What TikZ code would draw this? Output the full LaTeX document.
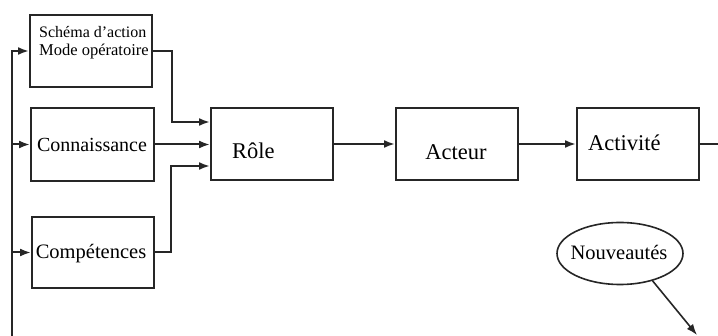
\documentclass[tikz,border=0pt]{standalone}
\usepackage{fontspec}
\setmainfont{Liberation Serif}
\usetikzlibrary{arrows.meta,shapes.geometric}
\begin{document}
\begin{tikzpicture}[x=1pt,y=-1pt,
  box/.style={draw=black!85,line width=2pt,rectangle,inner sep=0pt},
  line/.style={draw=black!85,line width=2pt},
  arr/.style={line,-{Latex[length=11pt,width=8pt]}},
  lbl/.style={inner sep=0pt}]
\useasboundingbox (0,0) rectangle (718,336);
% boxes
\node[box,minimum width=122pt,minimum height=72pt] (schema) at (91,51) {};
\node[box,minimum width=123pt,minimum height=73pt] (conn) at (92.5,144.5) {};
\node[box,minimum width=122pt,minimum height=71pt] (comp) at (93,252.5) {};
\node[box,minimum width=122pt,minimum height=72pt] (role) at (272,144) {};
\node[box,minimum width=122pt,minimum height=72pt] (acteur) at (457,144) {};
\node[box,minimum width=122pt,minimum height=72pt] (activ) at (638,144) {};
\node[draw=black!85,line width=1.6pt,ellipse,minimum width=126pt,minimum height=62pt,inner sep=0pt] (nouv) at (620,253.5) {};
% texts
\node[lbl,anchor=west,font=\fontsize{16}{16}\selectfont] (t1) at (39,32) {Schéma d'action};
\node[lbl,anchor=west,font=\fontsize{16.5}{16}\selectfont] (t2) at (39,52) {Mode opératoire};
\node[lbl,font=\fontsize{20}{20}\selectfont] (t3) at (92,145) {Connaissance};
\node[lbl,font=\fontsize{20.5}{20}\selectfont] (t4) at (91,254) {Compétences};
\node[lbl,anchor=west,font=\fontsize{22.5}{22}\selectfont] (t5) at (232,151) {Rôle};
\node[lbl,font=\fontsize{22.5}{22}\selectfont] (t6) at (456,152) {Acteur};
\node[lbl,anchor=west,font=\fontsize{22.5}{22}\selectfont] (t7) at (588,143) {Activité};
\node[lbl,font=\fontsize{20.5}{20}\selectfont] (t8) at (619,252) {Nouveautés};
% connectors
\coordinate (bus) at (12,336);
\coordinate (out) at (718,144);
\coordinate (nend) at (697,335);
\draw[arr] (bus) |- (schema.west);
\draw[arr] (bus |- conn.west) -- (conn.west);
\draw[arr] (bus |- comp.west) -- (comp.west);
\draw[arr] (schema.east) -| ([xshift=-38pt,yshift=22pt]role.west) -- ([yshift=22pt]role.west);
\draw[arr] (conn.east) -- (conn.east -| role.west);
\draw[arr] (comp.east) -| ([xshift=-39pt,yshift=-22pt]role.west) -- ([yshift=-22pt]role.west);
\draw[arr] (role.east) -- (acteur.west);
\draw[arr] (acteur.east) -- (activ.west);
\draw[line] (activ.east) -- (out);
\draw[arr,line width=1.6pt] (nouv.-40) -- (nend);
\end{tikzpicture}
\end{document}
